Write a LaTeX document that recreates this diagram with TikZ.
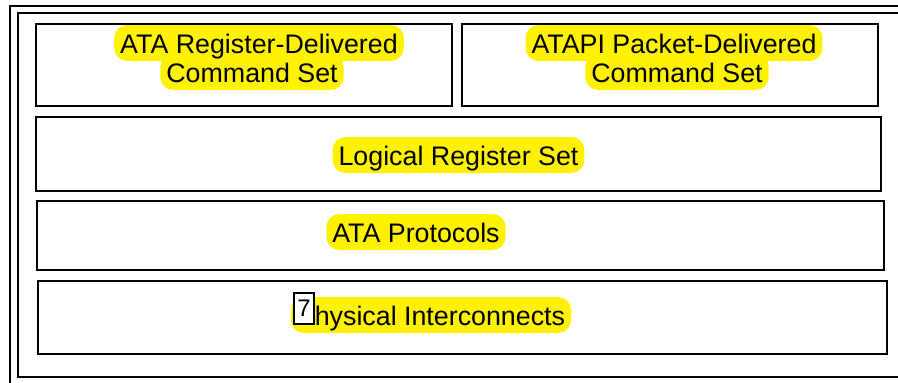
\documentclass[tikz,border=0pt]{standalone}
\usepackage{fontspec}
\setmainfont{Liberation Sans}
\begin{document}
\begin{tikzpicture}[x=1pt, y=-1pt,
    frame/.style={line width=2.5pt},
    layer/.style={draw, line width=2.5pt, inner sep=0pt},
    hilite/.style={fill=yellow, rounded corners=13pt, anchor=base, inner xsep=6pt, inner ysep=0pt,
        text height=28pt, text depth=8pt, font=\fontsize{26.8}{28}\selectfont},
    marker/.style={draw, fill=white, line width=1.5pt, inner sep=0pt, minimum width=20pt,
        minimum height=31pt, font=\fontsize{24}{24}\selectfont}]
    \useasboundingbox (0,0) rectangle (898,383);
    % double frame, cut off at the page edge
    \draw[frame] (10,6) rectangle (930,420);
    \draw[frame] (18,13) rectangle (920,377);
    % layers
    \node[layer, minimum width=416pt, minimum height=82pt] (regcmd) at (244,65) {};
    \node[layer, minimum width=416pt, minimum height=82pt] (pktcmd) at (670,65) {};
    \node[layer, minimum width=845pt, minimum height=74pt] (logregs) at (458.5,154) {};
    \node[layer, minimum width=847pt, minimum height=69pt] (protocols) at (460.5,235.5) {};
    \node[layer, minimum width=849pt, minimum height=73pt] (physical) at (462.5,317.5) {};
    % labels (second lines first, so the first lines stay on top)
    \node[hilite] (regcmdB) at (252,82) {Command Set};
    \node[hilite] (regcmdA) at (259,53) {ATA Register-Delivered};
    \node[hilite] (pktcmdB) at (677,82) {Command Set};
    \node[hilite] (pktcmdA) at (674,53) {ATAPI Packet-Delivered};
    \node[hilite] (logregsL) at (458.5,165) {Logical Register Set};
    \node[hilite] (protocolsL) at (416,242) {ATA Protocols};
    \node[hilite] (physicalL) at (431,325) {Physical Interconnects};
    \node[marker] (note) at (304,308.5) {7};
\end{tikzpicture}
\end{document}
